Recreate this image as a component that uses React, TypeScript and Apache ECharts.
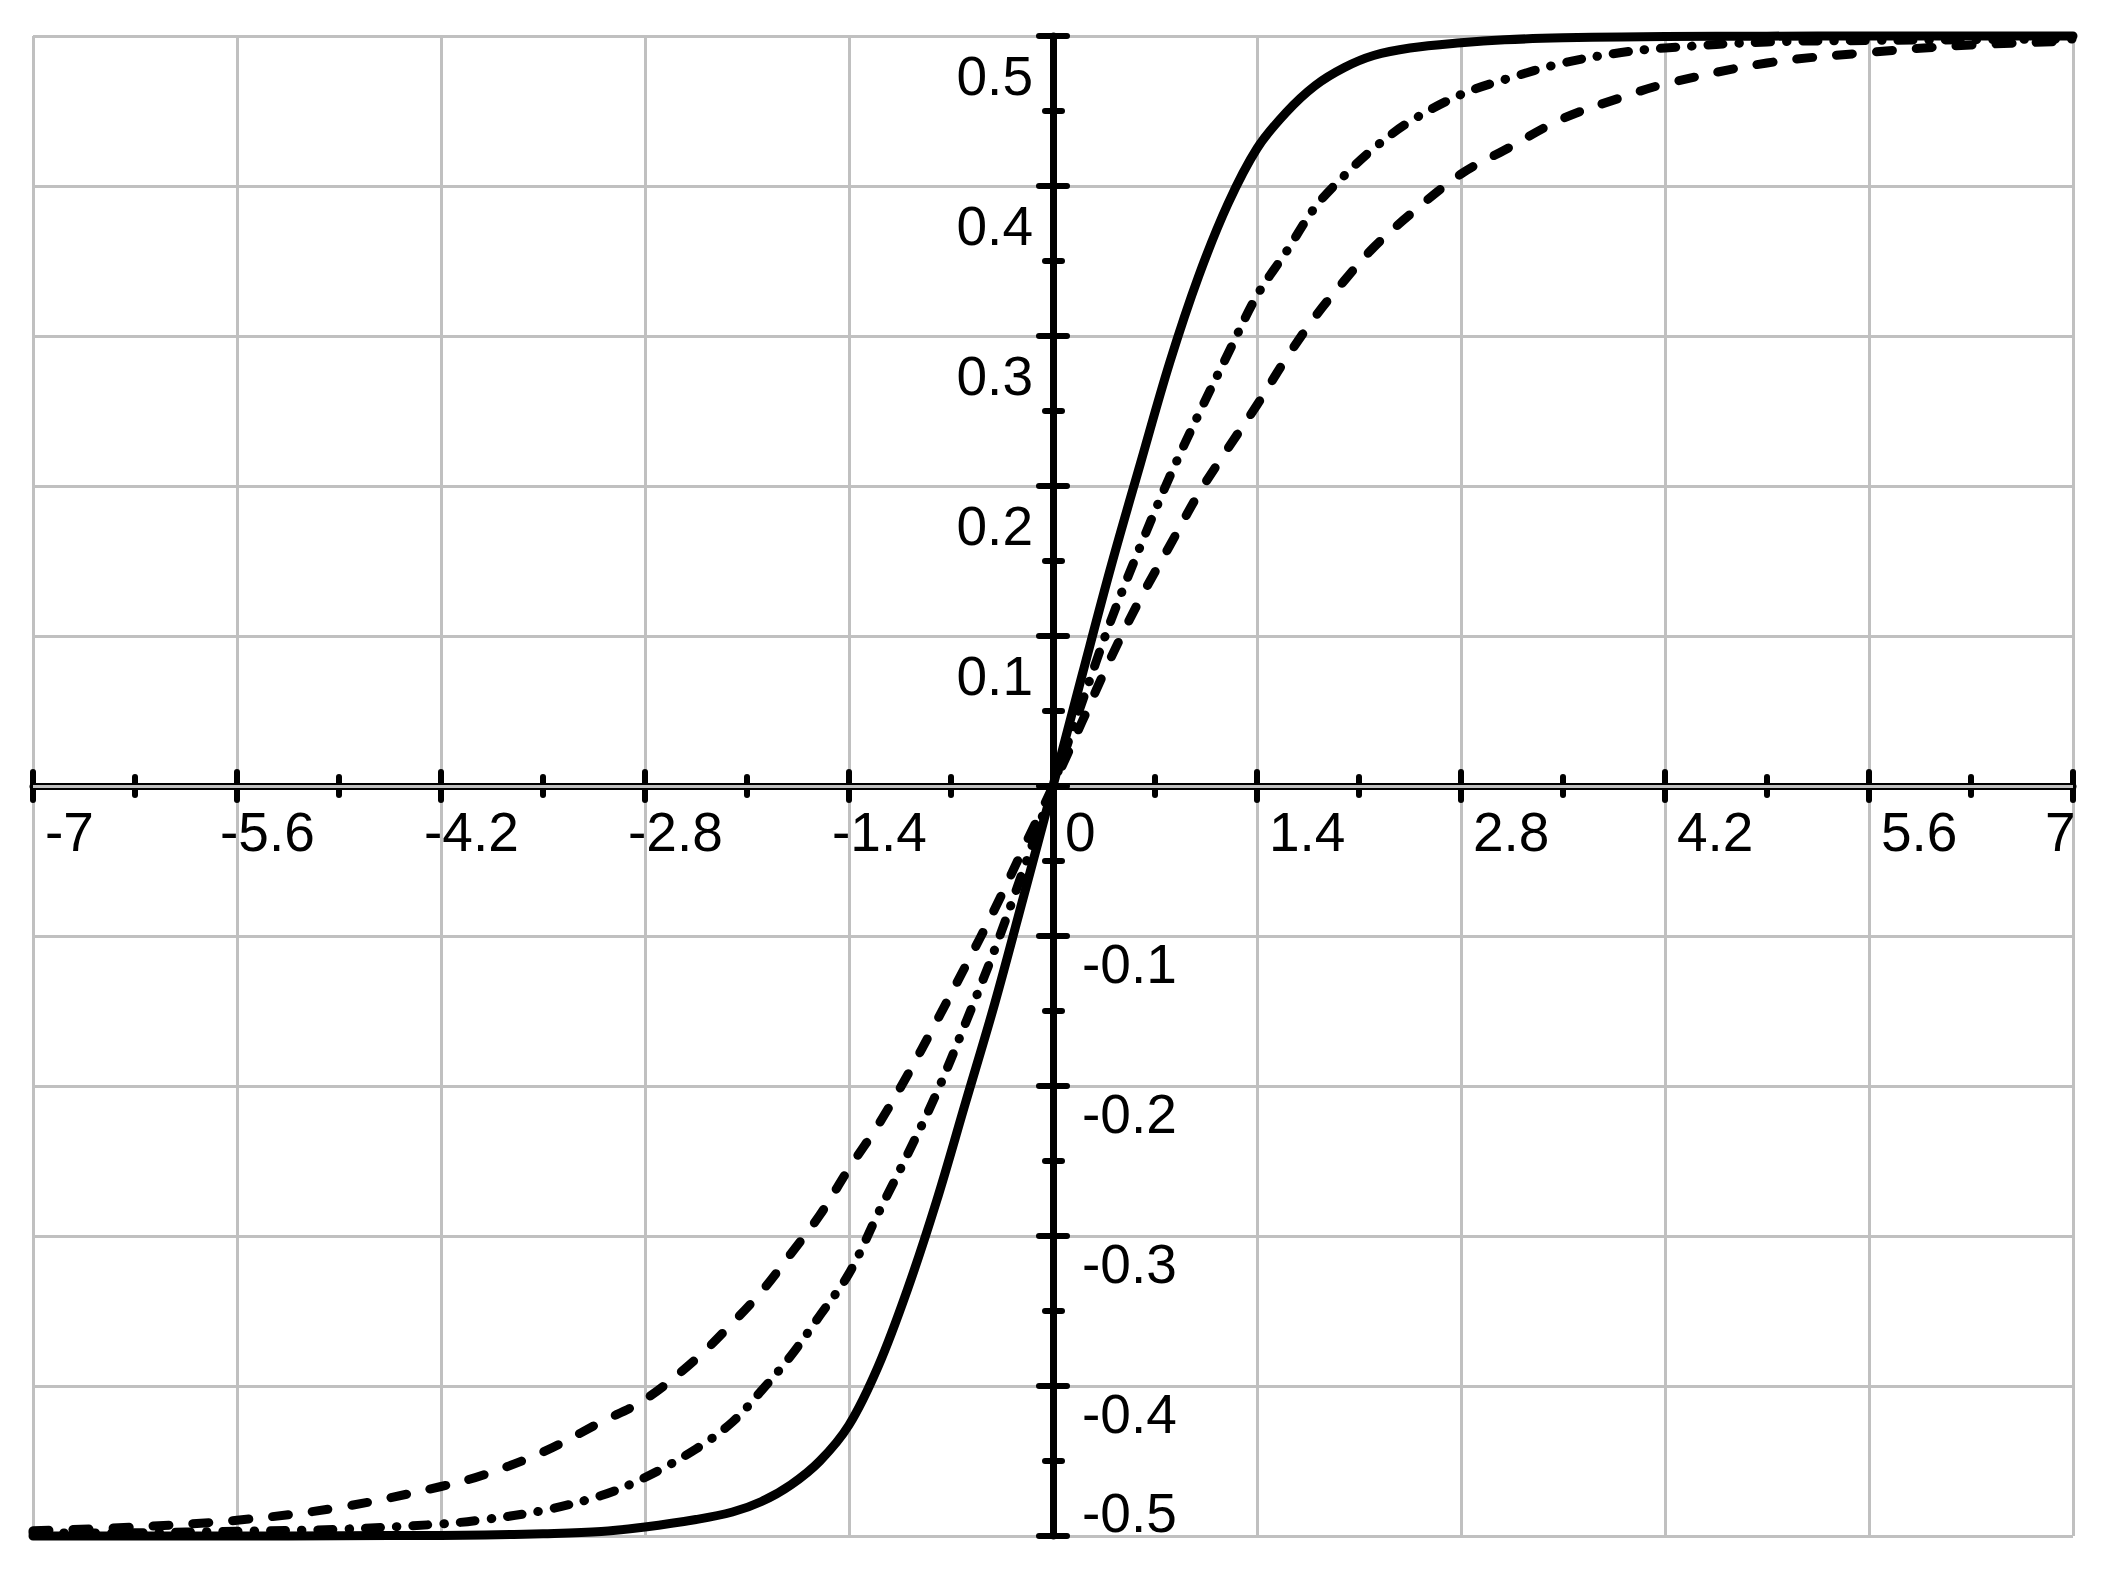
import React, { useEffect, useRef } from "react";
import * as echarts from "echarts";

// ---- data ----
const xValues = [-7, -6.3, -5.6, -4.9, -4.2, -3.9, -3.5, -3.1, -2.8, -2.45, -2.2, -2.0, -1.8, -1.6, -1.4, -1.2, -1.0, -0.8, -0.6, -0.4, -0.2, 0, 0.2, 0.4, 0.6, 0.8, 1.0, 1.2, 1.4, 1.6, 1.8, 2.0, 2.2, 2.45, 2.8, 3.1, 3.5, 3.9, 4.2, 4.9, 5.6, 6.3, 7];

const solidValues = [-0.5, -0.5, -0.5, -0.4998, -0.4996, -0.4993, -0.4985, -0.497, -0.494, -0.489, -0.484, -0.477, -0.466, -0.45, -0.426, -0.387, -0.336, -0.277, -0.211, -0.145, -0.073, 0, 0.074, 0.147, 0.215, 0.282, 0.34, 0.388, 0.425, 0.449, 0.467, 0.479, 0.487, 0.492, 0.4955, 0.4975, 0.4988, 0.4994, 0.4997, 0.4999, 0.5, 0.5, 0.5];

const dashDotValues = [-0.498, -0.4978, -0.4968, -0.4955, -0.492, -0.489, -0.483, -0.473, -0.461, -0.442, -0.424, -0.403, -0.38, -0.353, -0.325, -0.285, -0.246, -0.205, -0.158, -0.109, -0.055, 0, 0.056, 0.111, 0.16, 0.206, 0.248, 0.288, 0.327, 0.356, 0.386, 0.407, 0.425, 0.443, 0.461, 0.471, 0.482, 0.489, 0.492, 0.496, 0.497, 0.4975, 0.498];

const dashedValues = [-0.4965, -0.494, -0.4895, -0.481, -0.467, -0.459, -0.444, -0.424, -0.409, -0.382, -0.358, -0.337, -0.312, -0.286, -0.255, -0.226, -0.193, -0.157, -0.12, -0.082, -0.041, 0, 0.043, 0.086, 0.125, 0.16, 0.195, 0.225, 0.254, 0.285, 0.313, 0.337, 0.359, 0.381, 0.408, 0.424, 0.445, 0.459, 0.468, 0.482, 0.489, 0.494, 0.4965];

const xTickLabels = ["-7", "-5.6", "-4.2", "-2.8", "-1.4", "0", "1.4", "2.8", "4.2", "5.6", "7"];
const yTickLabels = ["-0.5", "-0.4", "-0.3", "-0.2", "-0.1", "0", "0.1", "0.2", "0.3", "0.4", "0.5"];

const FONT = "'Liberation Sans', Arial, sans-serif";
const FS = 55;
const GRID_GRAY = "#c0c0c0";

const GRID_LEFT = 33;
const GRID_RIGHT = 42;
const GRID_TOP = 36;
const GRID_BOTTOM = 38;
const CHART_W = 2115;
const CHART_H = 1574;

const baseTok = { fontSize: FS, fontFamily: FONT, color: "#000", lineHeight: FS, align: "left" as const };

function xLabel(_v: number, index: number): string {
  const lab = xTickLabels[index];
  if (lab === undefined) return "";
  if (lab === "7") return `{t|${lab}}{r2| }`;
  if (lab.startsWith("-") && lab !== "-7") return `{t|${lab}}{r| }`;
  return `{l| }{t|${lab}}`;
}

function yPosLabel(_v: number, index: number): string {
  if (index <= 5) return "";
  const lab = yTickLabels[index];
  return lab ? `{p|${lab}}` : "";
}

function yNegLabel(_v: number, index: number): string {
  if (index >= 5) return "";
  const lab = yTickLabels[index];
  if (!lab) return "";
  return index === 0 ? `{n5|${lab}}` : `{n|${lab}}`;
}

const tickStyle = { color: "#000", width: 6, cap: "round" as const };

export default function App() {
  const ref = useRef<HTMLDivElement>(null);
  useEffect(() => {
    if (!ref.current) return;
    const chart = echarts.init(ref.current, undefined, { renderer: "svg" });
    const plotW = CHART_W - GRID_LEFT - GRID_RIGHT;
    const plotH = CHART_H - GRID_TOP - GRID_BOTTOM;
    // axes cross at (0,0): centre of the plot area
    const xOffset = -plotH / 2;
    const yOffset = -plotW / 2;
    const xBase = {
      type: "value" as const, min: -7, max: 7, interval: 1.4,
      position: "bottom" as const, offset: xOffset,
    };
    const yBase = {
      type: "value" as const, min: -0.5, max: 0.5, interval: 0.1,
      position: "left" as const, offset: yOffset,
    };
    const mk = (data: number[]) => xValues.map((x, i) => [x, data[i]]);
    const lineSeries = (name: string, data: number[], type: any, z: number) => ({
      name,
      type: "line",
      data: mk(data),
      showSymbol: false,
      symbol: "none",
      smooth: 0.35,
      clip: false,
      z,
      lineStyle: { color: "#000", width: 9, type, cap: "round", join: "round" },
    });
    chart.setOption({
      animation: false,
      backgroundColor: "#fff",
      grid: {
        left: GRID_LEFT, right: GRID_RIGHT, top: GRID_TOP, bottom: GRID_BOTTOM,
        containLabel: false, outerBoundsMode: "none",
      },
      xAxis: [
        {
          ...xBase,
          z: 0,
          axisLine: { show: true, onZero: false, lineStyle: { color: "#000", width: 7 } },
          splitLine: { show: true, lineStyle: { color: GRID_GRAY, width: 3 } },
          axisTick: { show: true, inside: false, length: 14, lineStyle: tickStyle },
          minorTick: { show: true, splitNumber: 2, length: 9, lineStyle: tickStyle },
          axisLabel: {
            show: true,
            margin: 18,
            align: "center",
            verticalAlign: "top",
            formatter: xLabel,
            rich: {
              t: { ...baseTok, width: 20 },
              r: { ...baseTok, width: 14 },
              r2: { ...baseTok, width: 36 },
              l: { ...baseTok, width: 44 },
            },
          },
        },
        {
          ...xBase,
          z: 1,
          axisLine: { show: true, onZero: false, lineStyle: { color: GRID_GRAY, width: 3 } },
          splitLine: { show: false },
          axisTick: { show: false },
          axisLabel: { show: false },
        },
        {
          ...xBase,
          z: 2,
          axisLine: { show: false, onZero: false },
          splitLine: { show: false },
          axisTick: { show: true, inside: true, length: 14, lineStyle: tickStyle },
          minorTick: { show: true, splitNumber: 2, length: 9, lineStyle: tickStyle },
          axisLabel: { show: false },
        },
      ],
      yAxis: [
        {
          ...yBase,
          z: 3,
          axisLine: { show: true, onZero: false, lineStyle: { color: "#000", width: 7 } },
          splitLine: { show: true, lineStyle: { color: GRID_GRAY, width: 3 } },
          axisTick: { show: true, inside: false, length: 14, lineStyle: tickStyle },
          minorTick: { show: true, splitNumber: 2, length: 8, lineStyle: tickStyle },
          axisLabel: {
            show: true,
            margin: 20,
            formatter: yPosLabel,
            rich: { p: { ...baseTok, align: "right", padding: [80, 0, 0, 0] } },
          },
        },
        {
          ...yBase,
          z: 3,
          axisLine: { show: false, onZero: false },
          splitLine: { show: false },
          axisTick: { show: true, inside: true, length: 14, lineStyle: tickStyle },
          minorTick: { show: true, splitNumber: 2, length: 9, lineStyle: tickStyle },
          axisLabel: {
            show: true,
            inside: true,
            margin: 29,
            formatter: yNegLabel,
            rich: {
              n: { ...baseTok, padding: [56, 0, 0, 0] },
              n5: { ...baseTok, padding: [0, 0, 46, 0] },
            },
          },
        },
      ],
      series: [
        lineSeries("dashed", dashedValues, [16, 24], 5),
        lineSeries("dashdot", dashDotValues, [15, 16, 0.5, 16], 5),
        lineSeries("solid", solidValues, "solid", 6),
      ],
    });
    return () => chart.dispose();
  }, []);
  return (
    <div
      ref={ref}
      style={{ position: "fixed", left: 0, top: 0, width: CHART_W, height: CHART_H, background: "#fff" }}
    />
  );
}
